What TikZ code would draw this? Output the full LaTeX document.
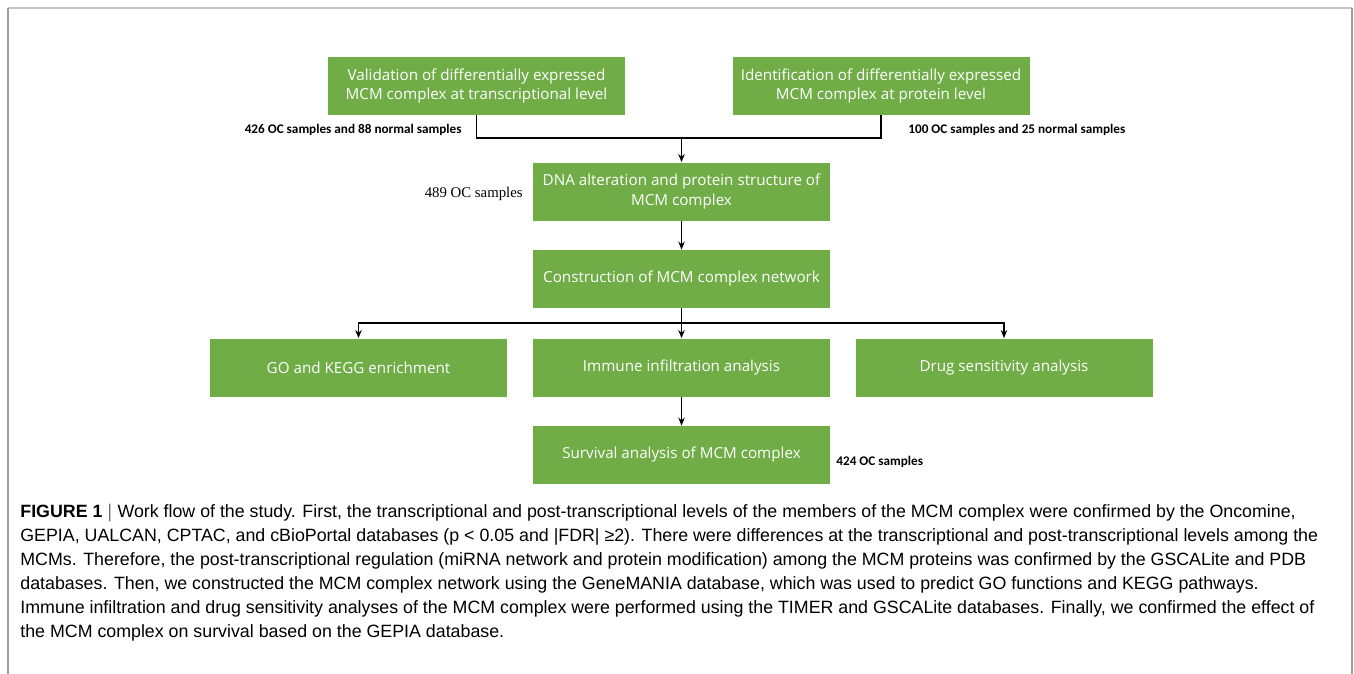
\documentclass[tikz,border=0pt]{standalone}
\usepackage{fontspec}
\setmainfont{Liberation Sans}
\newfontfamily\boxfont{Open Sans}
\newfontfamily\notefont{Carlito}
\newfontfamily\serifnote{Liberation Serif}
\usetikzlibrary{arrows.meta}
\definecolor{stagegreen}{HTML}{70AD47}

\tikzset{
  stage/.style={fill=stagegreen, text=white, minimum width=148.5pt, minimum height=29pt,
    inner sep=0pt, align=center, font=\boxfont\fontsize{7.6}{9.6}\selectfont},
  note/.style={font=\notefont\bfseries\fontsize{6.6}{8}\selectfont, inner sep=0pt},
  flow/.style={line width=0.75pt},
  flowarrow/.style={flow, -{Stealth[length=4pt,width=3.2pt]}}
}

\begin{document}
\begin{tikzpicture}[x=0.5pt,y=-0.5pt]
\useasboundingbox (0,0) rectangle (1354,674);
% frame
\draw[black!22, line width=0.9pt] (8,8) -- (1352,8);
\draw[black!38, line width=0.7pt] (8,8) -- (8,674);
\draw[black!38, line width=0.7pt] (1352,8) -- (1352,674);

% boxes
\node[stage] (valid) at (476.5,86) {Validation of differentially expressed\\MCM complex at transcriptional level};
\node[stage] (ident) at (881,86) {Identification of differentially expressed\\MCM complex at protein level};
\node[stage] (dna) at (681.5,191.5) {DNA alteration and protein structure of\\MCM complex};
\node[stage] (net) at (681.5,279) {Construction of MCM complex network};
\node[stage] (goke) at (358.5,367.5) {GO and KEGG enrichment};
\node[stage] (immune) at (681.5,367.5) {Immune infiltration analysis};
\node[stage] (drug) at (1004,367.5) {Drug sensitivity analysis};
\node[stage] (surv) at (681.5,455) {Survival analysis of MCM complex};

% sample notes
\node[note, anchor=east] (n426) at (462,130) {426 OC samples and 88 normal samples};
\node[note, anchor=west] (n100) at (908,130) {100 OC samples and 25 normal samples};
\node[anchor=east, inner sep=0pt, font=\serifnote\fontsize{7.4}{9}\selectfont] (n489) at (523,194) {489 OC samples};
\node[note, anchor=west] (n424) at (836,462) {424 OC samples};

% connectors
\coordinate (join) at (681.5,138);
\coordinate (split) at (681.5,323);
\draw[flow] (valid.south) |- (join);
\draw[flow] (ident.south) |- (join);
\draw[flowarrow] (join) -- (dna.north);
\draw[flowarrow] (dna) -- (net);
\draw[flow] (net.south) -- (split);
\draw[flowarrow] (split) -| (goke.north);
\draw[flowarrow] (split) -| (drug.north);
\draw[flowarrow] (split) -- (immune.north);
\draw[flowarrow] (immune) -- (surv);

% caption
\node[anchor=north west, inner sep=0pt, align=left, font=\fontsize{8.9}{12}\selectfont] (caption) at (20,504) {%
\textbf{FIGURE 1} $|$ Work flow of the study. First, the transcriptional and post-transcriptional levels of the members of the MCM complex were confirmed by the Oncomine,\\
GEPIA, UALCAN, CPTAC, and cBioPortal databases (p < 0.05 and |FDR| ≥2). There were differences at the transcriptional and post-transcriptional levels among the\\
MCMs. Therefore, the post-transcriptional regulation (miRNA network and protein modification) among the MCM proteins was confirmed by the GSCALite and PDB\\
databases. Then, we constructed the MCM complex network using the GeneMANIA database, which was used to predict GO functions and KEGG pathways.\\
Immune infiltration and drug sensitivity analyses of the MCM complex were performed using the TIMER and GSCALite databases. Finally, we confirmed the effect of\\
the MCM complex on survival based on the GEPIA database.};
\end{tikzpicture}
\end{document}
